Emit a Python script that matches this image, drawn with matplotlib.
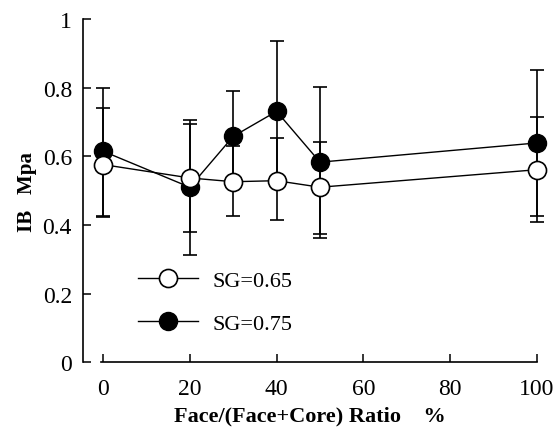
import matplotlib
matplotlib.use("Agg")
from matplotlib import pyplot as plt
from matplotlib.lines import Line2D

# Face/(Face+Core) ratio (%)
ratio = [0, 20, 30, 40, 50, 100]

# SG=0.65 (open circles)
ib_065 = [0.576, 0.537, 0.526, 0.529, 0.510, 0.561]
err_065_lo = [0.152, 0.158, 0.099, 0.115, 0.135, 0.151]
err_065_hi = [0.164, 0.156, 0.105, 0.125, 0.133, 0.154]

# SG=0.75 (filled circles)
ib_075 = [0.615, 0.510, 0.658, 0.731, 0.583, 0.639]
err_075_lo = [0.190, 0.197, 0.133, 0.204, 0.222, 0.214]
err_075_hi = [0.185, 0.197, 0.133, 0.204, 0.220, 0.212]

xticks = [0, 20, 40, 60, 80, 100]
yticks = [0, 0.2, 0.4, 0.6, 0.8, 1]
yticklabels = ["0", "0.2", "0.4", "0.6", "0.8", "1"]

plt.rcParams['font.family'] = ['Liberation Serif', 'DejaVu Serif']

fig = plt.figure(figsize=(5.57, 4.39), dpi=100)
ax = fig.add_axes([83/557, 1 - 363.3/439, (537 - 83)/557, (363.3 - 20)/439])

ms = 13
ax.errorbar(ratio, ib_075, yerr=[err_075_lo, err_075_hi], fmt='-o', color='black',
            mfc='black', mec='black', ms=ms, lw=1.0, elinewidth=1.2, capsize=4.7,
            capthick=1.2, clip_on=False, zorder=3)
ax.errorbar(ratio, ib_065, yerr=[err_065_lo, err_065_hi], fmt='-o', color='black',
            mfc='white', mec='black', ms=ms, mew=1.2, lw=1.0, elinewidth=1.2,
            capsize=4.7, capthick=1.2, clip_on=False, zorder=4)

ax.set_xlim(-4.6, 100)
ax.set_ylim(0, 1)
ax.spines['top'].set_visible(False)
ax.spines['right'].set_visible(False)
ax.spines['left'].set_bounds(0, 1)
ax.spines['bottom'].set_bounds(-0.5, 100)
ax.spines['left'].set_linewidth(1.2)
ax.spines['bottom'].set_linewidth(1.2)

ax.set_xticks(xticks)
ax.set_yticks(yticks)
ax.set_yticklabels(yticklabels)
ax.tick_params(axis='both', direction='in', length=6, width=1.1, labelsize=17)
ax.tick_params(axis='x', pad=11)
ax.tick_params(axis='y', pad=8)

ax.set_xlabel('Face/(Face+Core) Ratio    %', fontsize=16, fontweight='bold', labelpad=5)
ax.set_ylabel('IB   Mpa', fontsize=15, fontweight='bold', labelpad=4)

handles = [
    Line2D([], [], color='black', lw=1.0, marker='o', ms=ms, mfc='white', mec='black', mew=1.2),
    Line2D([], [], color='black', lw=1.0, marker='o', ms=ms, mfc='black', mec='black'),
]
ax.legend(handles, ['SG=0.65', 'SG=0.75'], loc='upper left', bbox_to_anchor=(0.097, 0.30),
          frameon=False, fontsize=16, handlelength=2.7, handletextpad=0.65,
          labelspacing=1.0, borderpad=0)

fig.savefig("out.png", dpi=100)
